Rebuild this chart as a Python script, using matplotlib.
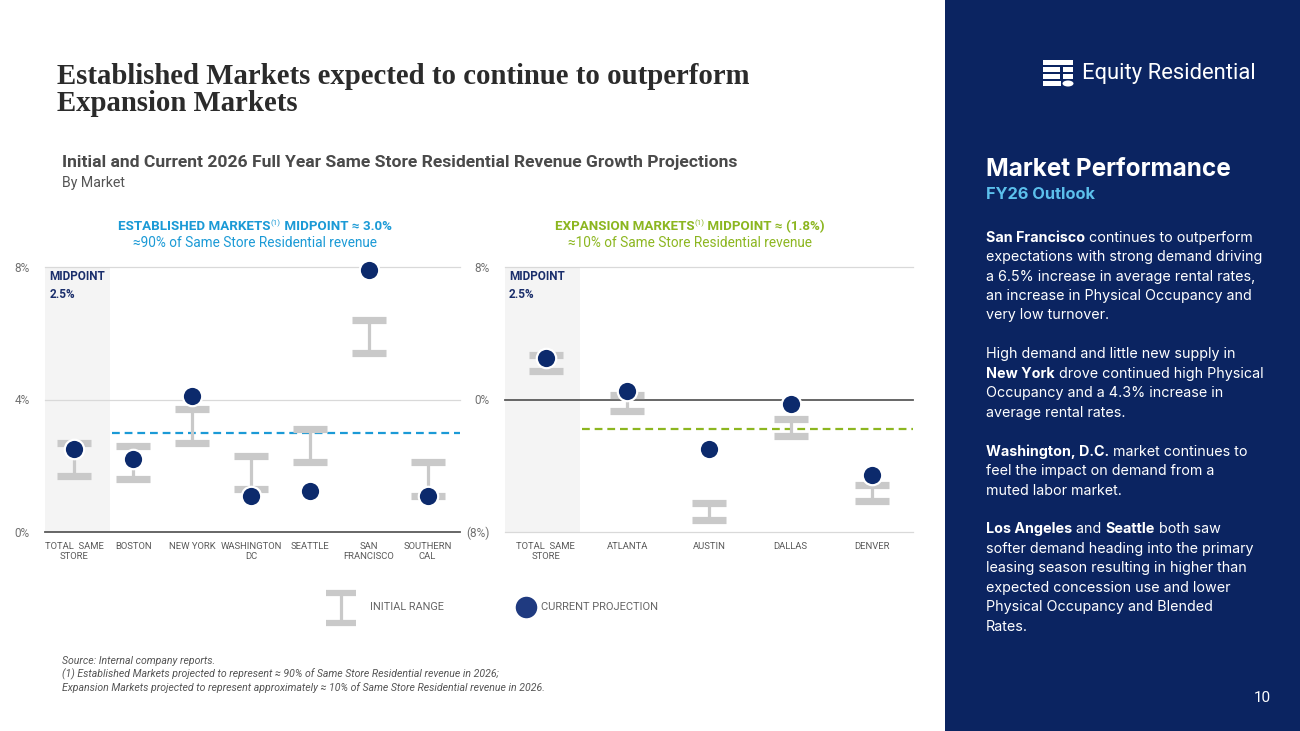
import numpy as np
import matplotlib
matplotlib.use('Agg')
import matplotlib.pyplot as plt
from matplotlib.patches import Rectangle, Ellipse

# ---- data ----
est_labels = ['TOTAL  SAME\nSTORE', 'BOSTON', 'NEW YORK', 'WASHINGTON\nDC',
              'SEATTLE', 'SAN\nFRANCISCO', 'SOUTHERN\nCAL']
est_low = [1.7, 1.6, 2.7, 1.3, 2.1, 5.4, 1.1]
est_high = [2.7, 2.6, 3.7, 2.3, 3.1, 6.4, 2.1]
est_current = [2.5, 2.2, 4.1, 1.1, 1.25, 7.9, 1.1]
est_midpoint = 3.0

exp_labels = ['TOTAL  SAME\nSTORE', 'ATLANTA', 'AUSTIN', 'DALLAS', 'DENVER']
exp_low = [1.7, -0.7, -7.25, -2.2, -6.15]
exp_high = [2.7, 0.3, -6.25, -1.2, -5.15]
exp_current = [2.5, 0.5, -3.0, -0.3, -4.55]
exp_midpoint = -1.8

est_ticks = [0, 4, 8]
est_ticklabels = ['0%', '4%', '8%']
exp_ticks = [-8, 0, 8]
exp_ticklabels = ['(8%)', '0%', '8%']

NAVY = '#0c2a6c'
PANEL = '#0b2461'
GREY = '#c9c9c9'
BLUE = '#1b9ad6'
GREEN = '#8cb620'
SANS = ['Roboto', 'DejaVu Sans']
BODY = ['Inter', 'DejaVu Sans']

W, H = 1300, 731
fig = plt.figure(figsize=(W / 100, H / 100), dpi=100)
fig.patch.set_facecolor('white')

# background axes in pixel coordinates for the slide furniture
bg = fig.add_axes([0, 0, 1, 1])
bg.set_xlim(0, W)
bg.set_ylim(H, 0)
bg.axis('off')
renderer = fig.canvas.get_renderer()


def px_axes(x0, y0, x1, y1):
    return fig.add_axes([x0 / W, 1 - y1 / H, (x1 - x0) / W, (y1 - y0) / H])


def text_width(s, props):
    t = bg.text(0, 0, s, **props)
    w = t.get_window_extent(renderer).width
    t.remove()
    return w


def part_width(s, props):
    return text_width('x' + s + 'x', props) - text_width('xx', props)


def rich_text(x, y, parts, ha='left', **common):
    # parts: (text, extra props, vertical shift in px)
    widths = []
    for s, props, dy in parts:
        widths.append(part_width(s, {**common, **props}))
    start = x - sum(widths) / 2 if ha == 'center' else x
    for (s, props, dy), w in zip(parts, widths):
        bg.text(start, y + dy, s, va='baseline', ha='left', **{**common, **props})
        start += w


def draw_chart(ax, labels, low, high, current, midpoint, ylim, ticks, ticklabels,
               dark_line, mid_color, mid_start, shade_end, xmax):
    x = np.arange(len(labels))
    ax.set_xlim(-0.5, xmax)
    ax.set_ylim(*ylim)
    ax.set_facecolor('none')
    ax.axvspan(-0.5, shade_end, color='#f4f4f4', lw=0, zorder=0)
    for t in ticks:
        if t == dark_line:
            ax.axhline(t, color='#5a5a5a', lw=1.3, zorder=1, clip_on=False)
        else:
            ax.axhline(t, color='#d9d9d9', lw=0.9, zorder=1, clip_on=False)
    ax.hlines(midpoint, mid_start, xmax, color=mid_color, lw=1.6,
              linestyles=(0, (3.5, 2.2)), zorder=2)
    ax.vlines(x, low, high, color=GREY, lw=2.3, zorder=3)
    ax.plot(x, low, ls='none', marker='_', ms=24, mew=5.2, color=GREY, zorder=3)
    ax.plot(x, high, ls='none', marker='_', ms=24, mew=5.2, color=GREY, zorder=3)
    ax.plot(x, current, ls='none', marker='o', ms=14, mfc=NAVY, mec='white',
            mew=1.6, zorder=4, clip_on=False)
    for s in ax.spines.values():
        s.set_visible(False)
    ax.set_yticks(ticks, ticklabels)
    ax.set_xticks(x, labels)
    ax.tick_params(length=0)
    ax.tick_params(axis='y', pad=11, labelsize=8.5, labelcolor='#707070')
    ax.tick_params(axis='x', pad=7, labelsize=6.8, labelcolor='#5a5a5a')
    for lab in ax.get_xticklabels() + ax.get_yticklabels():
        lab.set_family(SANS)
        lab.set_linespacing(1.25)
    ax.text(0.01, 0.987, 'MIDPOINT\n2.5%', transform=ax.transAxes, va='top',
            ha='left', fontsize=8.5, fontweight='bold', color='#1a2e6b',
            linespacing=1.5, family=SANS)


ax1 = px_axes(45, 267, 460, 532)
draw_chart(ax1, est_labels, est_low, est_high, est_current, est_midpoint,
           (0, 8), est_ticks, est_ticklabels, 0, BLUE, 0.63, 0.6, 6.55)

ax2 = px_axes(505, 267, 913, 532)
draw_chart(ax2, exp_labels, exp_low, exp_high, exp_current, exp_midpoint,
           (-8, 8), exp_ticks, exp_ticklabels, 0, GREEN, 0.44, 0.42, 4.5)

# ---- titles ----
title_font = ['Liberation Serif', 'DejaVu Serif']
bg.text(57, 84, 'Established Markets expected to continue to outperform', fontsize=20.7,
        fontweight='bold', color='#2b2b2b', family=title_font, va='baseline')
bg.text(57, 111, 'Expansion Markets', fontsize=20.7, fontweight='bold',
        color='#2b2b2b', family=title_font, va='baseline')
bg.text(62, 167, 'Initial and Current 2026 Full Year Same Store Residential Revenue Growth Projections',
        fontsize=12.6, fontweight='bold', color='#4a4a4a', family=SANS, va='baseline')
bg.text(62, 187, 'By Market', fontsize=10.2, color='#555555', family=SANS, va='baseline')

# ---- group headers ----
for cx, col, name, mid, share in [(255, BLUE, 'ESTABLISHED MARKETS', '3.0%', '90%'),
                                  (690, GREEN, 'EXPANSION MARKETS', '(1.8%)', '10%')]:
    rich_text(cx, 230, [(name, {'fontweight': 'bold'}, 0),
                        ('(1)', {'fontsize': 5.8}, -5),
                        (' MIDPOINT \u2248 ' + mid, {'fontweight': 'bold'}, 0)],
              ha='center', fontsize=9.6, color=col, family=SANS)
    bg.text(cx, 247, '\u2248' + share + ' of Same Store Residential revenue', fontsize=9.8,
            color=col, family=SANS, ha='center', va='baseline')

# ---- legend ----
bg.plot([341, 341], [593, 623], color=GREY, lw=2.3, solid_capstyle='butt')
bg.plot([341, 341], [593, 623], ls='none', marker='_', ms=22, mew=4.5, color=GREY)
bg.text(370, 607, 'INITIAL RANGE', fontsize=7.8, color='#666666', family=SANS, va='center')
bg.plot([526], [607], marker='o', ms=15.5, color='#1f3a80', mew=0)
bg.text(541, 607, 'CURRENT PROJECTION', fontsize=8, color='#666666', family=SANS, va='center')

# ---- footnotes ----
notes = ['Source: Internal company reports.',
         '(1) Established Markets projected to represent \u2248 90% of Same Store Residential revenue in 2026;',
         'Expansion Markets projected to represent approximately \u2248 10% of Same Store Residential revenue in 2026.']
for i, line in enumerate(notes):
    bg.text(62, 661 + i * 13.5, line, fontsize=7.6, style='italic', color='#555555',
            family=SANS, va='center')

# ---- right panel ----
bg.add_patch(Rectangle((945, 0), W - 945, H, color=PANEL, lw=0))

# logo mark
for (x0, y0, w, h) in [(1043, 60, 30, 5), (1043, 67, 17, 5), (1063, 67, 10, 5),
                       (1043, 74, 17, 5), (1063, 74, 10, 5), (1043, 81, 18, 5)]:
    bg.add_patch(Rectangle((x0, y0), w, h, color='white', lw=0))
bg.add_patch(Ellipse((1068, 83.5), 11, 6, color='white', lw=0))
bg.text(1082, 74, 'Equity Residential', fontsize=15.8, color='white', family=SANS,
        va='center', ha='left')

bg.text(986, 176, 'Market Performance', fontsize=17.5, fontweight='bold', color='white',
        family=BODY, va='baseline')
bg.text(986, 199, 'FY26 Outlook', fontsize=11.8, fontweight='bold', color='#5cc0ec',
        family=BODY, va='baseline')

panel_lines = [
    [('San Francisco', 'bold'), (' continues to outperform', 'normal')],
    [('expectations with strong demand driving', 'normal')],
    [('a 6.5% increase in average rental rates,', 'normal')],
    [('an increase in Physical Occupancy and', 'normal')],
    [('very low turnover.', 'normal')],
    [],
    [('High demand and little new supply in', 'normal')],
    [('New York', 'bold'), (' drove continued high Physical', 'normal')],
    [('Occupancy and a 4.3% increase in', 'normal')],
    [('average rental rates.', 'normal')],
    [],
    [('Washington, D.C.', 'bold'), (' market continues to', 'normal')],
    [('feel the impact on demand from a', 'normal')],
    [('muted labor market.', 'normal')],
    [],
    [('Los Angeles', 'bold'), (' and ', 'normal'), ('Seattle', 'bold'), (' both saw', 'normal')],
    [('softer demand heading into the primary', 'normal')],
    [('leasing season resulting in higher than', 'normal')],
    [('expected concession use and lower', 'normal')],
    [('Physical Occupancy and Blended', 'normal')],
    [('Rates.', 'normal')],
]
for n, parts in enumerate(panel_lines):
    if parts:
        rich_text(986, 241.7 + n * 19.45,
                  [(s, {'fontweight': wgt}, 0) for s, wgt in parts],
                  fontsize=10.3, color='white', family=BODY)

bg.text(1262, 698, '10', fontsize=11, color='white', family=SANS, ha='center', va='center')

fig.savefig('out.png', dpi=100)
